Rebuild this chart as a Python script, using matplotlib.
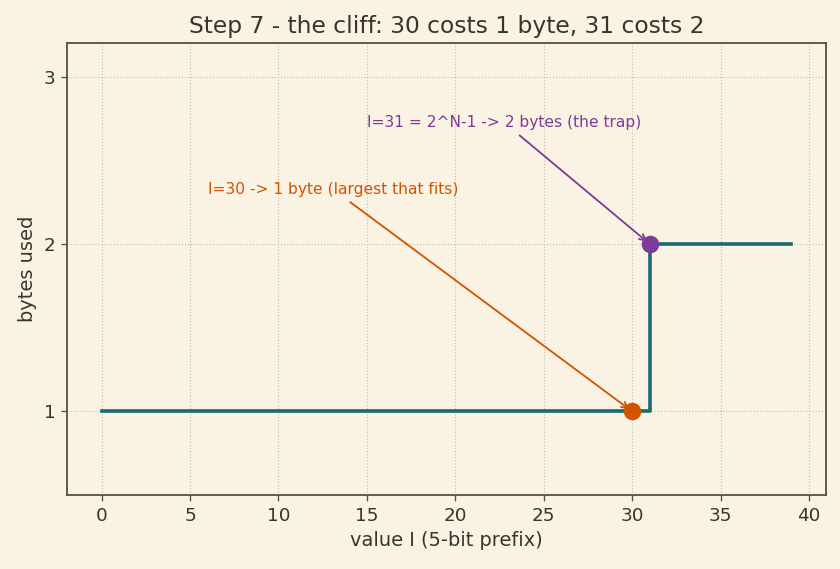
import numpy as np
import matplotlib.pyplot as plt

# data: bytes used for each prefix value I (5-bit prefix)
values = list(range(0, 40))
bytes_used = [1] * 31 + [2] * 9
fit_value, fit_bytes = 30, 1
trap_value, trap_bytes = 31, 2

bg = "#faf3e3"
ink = "#3b342b"
spine = "#5c5040"
teal = "#1a6b73"
orange = "#d35400"
purple = "#7d3c98"

plt.rcParams['font.family'] = ['DejaVu Sans']

fig, ax = plt.subplots(figsize=(7.0, 4.742), dpi=120)
fig.patch.set_facecolor(bg)
ax.set_facecolor(bg)

ax.step(values, bytes_used, where='post', color=teal, linewidth=2.2, zorder=2)
ax.plot([fit_value], [fit_bytes], 'o', color=orange, markersize=9.5, zorder=3)
ax.plot([trap_value], [trap_bytes], 'o', color=purple, markersize=9.5, zorder=3)

ax.annotate("I=30 -> 1 byte (largest that fits)", xy=(fit_value, fit_bytes),
            xytext=(6, 2.3), color=orange, fontsize=9.3,
            arrowprops=dict(arrowstyle='->', color=orange, lw=1.1))
ax.annotate("I=31 = 2^N-1 -> 2 bytes (the trap)", xy=(trap_value, trap_bytes),
            xytext=(15, 2.7), color=purple, fontsize=9.3,
            arrowprops=dict(arrowstyle='->', color=purple, lw=1.1))

ax.set_ylim(0.5, 3.2)
ax.set_yticks([1, 2, 3])
ax.set_xticks([0, 5, 10, 15, 20, 25, 30, 35, 40])
ax.grid(True, linestyle=':', color='#c8bfae', linewidth=0.7)
ax.set_axisbelow(True)

ax.set_title("Step 7 - the cliff: 30 costs 1 byte, 31 costs 2", fontsize=14, color=ink)
ax.set_xlabel("value I (5-bit prefix)", fontsize=11.6, color=ink)
ax.set_ylabel("bytes used", fontsize=11.6, color=ink)
ax.tick_params(colors=ink, labelsize=11, color=spine)
for s in ax.spines.values():
    s.set_color(spine)
    s.set_linewidth(1.1)

fig.subplots_adjust(left=0.08, right=0.983, top=0.924, bottom=0.13)
plt.savefig("out.png", dpi=120, facecolor=bg)
